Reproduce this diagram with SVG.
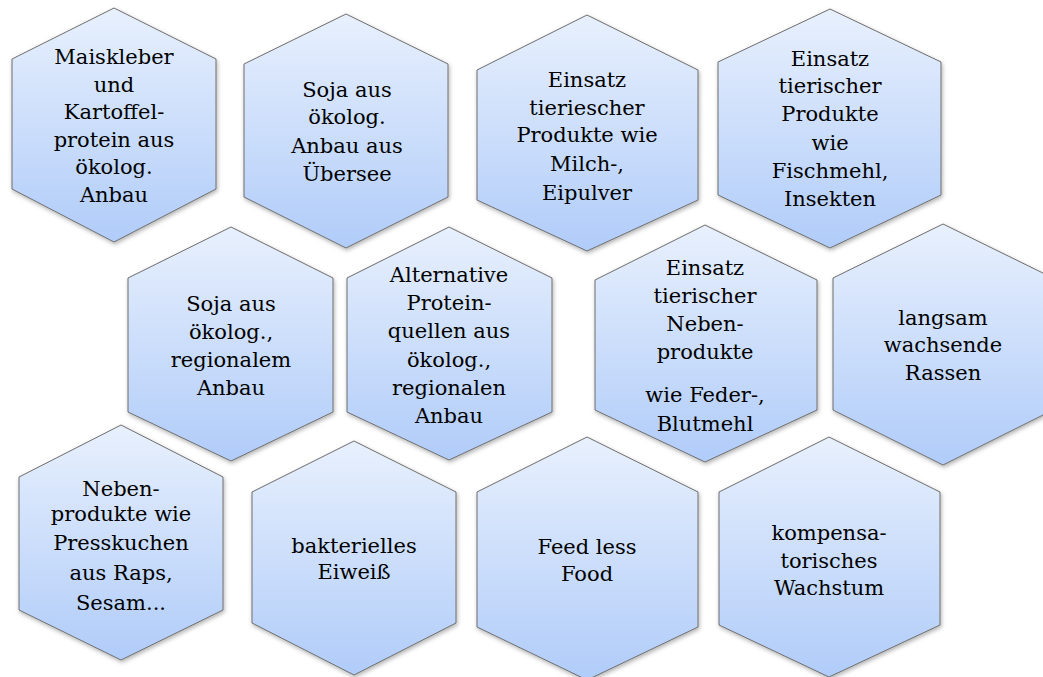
<svg xmlns="http://www.w3.org/2000/svg" width="1043" height="677" viewBox="0 0 1043 677">
<style>
.hex{fill:url(#g);stroke:#6e6e6e;stroke-width:1;filter:url(#sh)}
text{font-family:'DejaVu Serif','Liberation Serif','Noto Serif',serif;font-size:21px;fill:#000;text-anchor:middle}
</style>
<defs>
<linearGradient id="g" x1="0" y1="0" x2="0" y2="1">
<stop offset="0" stop-color="#e8f0fd"/>
<stop offset="1" stop-color="#b0ccf9"/>
</linearGradient>
<filter id="sh" x="-10%" y="-10%" width="125%" height="125%">
<feDropShadow dx="1" dy="2" stdDeviation="2" flood-color="#000" flood-opacity="0.3"/>
</filter>
</defs>
<rect width="1043" height="677" fill="#fff"/>
<g id="n1">
<polygon class="hex" points="114,8 216,59 216,189 114,242 12,189 12,59"/>
<text transform="translate(114 0)"><tspan x="0" y="64">Maiskleber</tspan><tspan x="0" y="91.5">und</tspan><tspan x="0" y="119">Kartoffel-</tspan><tspan x="0" y="146.5">protein aus</tspan><tspan x="0" y="174">ökolog.</tspan><tspan x="0" y="201.5">Anbau</tspan></text>
</g>
<g id="n2">
<polygon class="hex" points="346,14 448,64 448,197 346,248 244,197 244,64"/>
<text transform="translate(347 0)"><tspan x="0" y="96.5">Soja aus</tspan><tspan x="0" y="123.5">ökolog.</tspan><tspan x="0" y="153">Anbau aus</tspan><tspan x="0" y="181">Übersee</tspan></text>
</g>
<g id="n3">
<polygon class="hex" points="587,15 698,70 698,200 587,251 477,200 477,70"/>
<text transform="translate(587 0)"><tspan x="0" y="87">Einsatz</tspan><tspan x="0" y="114.5">tieriescher</tspan><tspan x="0" y="142">Produkte wie</tspan><tspan x="0" y="171">Milch-,</tspan><tspan x="0" y="199.5">Eipulver</tspan></text>
</g>
<g id="n4">
<polygon class="hex" points="830,9 941,62 941,195 830,248 718,195 718,62"/>
<text transform="translate(830 0)"><tspan x="0" y="66">Einsatz</tspan><tspan x="0" y="93">tierischer</tspan><tspan x="0" y="121">Produkte</tspan><tspan x="0" y="149.5">wie</tspan><tspan x="0" y="178">Fischmehl,</tspan><tspan x="0" y="206">Insekten</tspan></text>
</g>
<g id="n5">
<polygon class="hex" points="231,227 333,278 333,412 231,461 128,412 128,278"/>
<text transform="translate(231 0)"><tspan x="0" y="311">Soja aus</tspan><tspan x="0" y="339">ökolog.,</tspan><tspan x="0" y="367">regionalem</tspan><tspan x="0" y="395">Anbau</tspan></text>
</g>
<g id="n6">
<polygon class="hex" points="449,227 552,278 552,412 449,460 347,412 347,278"/>
<text transform="translate(449 0)"><tspan x="0" y="282">Alternative</tspan><tspan x="0" y="310">Protein-</tspan><tspan x="0" y="338">quellen aus</tspan><tspan x="0" y="366.5">ökolog.,</tspan><tspan x="0" y="394.5">regionalen</tspan><tspan x="0" y="422.5">Anbau</tspan></text>
</g>
<g id="n7">
<polygon class="hex" points="705,225 817,280 817,410 705,462 595,410 595,280"/>
<text transform="translate(705 0)"><tspan x="0" y="275">Einsatz</tspan><tspan x="0" y="303">tierischer</tspan><tspan x="0" y="331">Neben-</tspan><tspan x="0" y="359">produkte</tspan><tspan x="0" y="402">wie Feder-,</tspan><tspan x="0" y="430.5">Blutmehl</tspan></text>
</g>
<g id="n8">
<polygon class="hex" points="943,224 1053,278 1053,410 943,465 833,410 833,278"/>
<text transform="translate(943 0)"><tspan x="0" y="324.5">langsam</tspan><tspan x="0" y="352">wachsende</tspan><tspan x="0" y="380">Rassen</tspan></text>
</g>
<g id="n9">
<polygon class="hex" points="121,425 223,477 223,610 121,660 19,610 19,477"/>
<text transform="translate(121 0)"><tspan x="0" y="496">Neben-</tspan><tspan x="0" y="521">produkte wie</tspan><tspan x="0" y="549.5">Presskuchen</tspan><tspan x="0" y="579.5">aus Raps,</tspan><tspan x="0" y="609.5">Sesam...</tspan></text>
</g>
<g id="n10">
<polygon class="hex" points="354,441 456,492 456,623 354,675 252,623 252,492"/>
<text transform="translate(354 0)"><tspan x="0" y="552.5">bakterielles</tspan><tspan x="0" y="579">Eiweiß</tspan></text>
</g>
<g id="n11">
<polygon class="hex" points="587,437 698,492 698,627 587,680 477,627 477,492"/>
<text transform="translate(587 0)"><tspan x="0" y="554">Feed less</tspan><tspan x="0" y="581">Food</tspan></text>
</g>
<g id="n12">
<polygon class="hex" points="829,437 940,492 940,625 829,677 719,625 719,492"/>
<text transform="translate(829 0)"><tspan x="0" y="539.5">kompensa-</tspan><tspan x="0" y="567.5">torisches</tspan><tspan x="0" y="595">Wachstum</tspan></text>
</g>
<g id="connectors"/>
</svg>
